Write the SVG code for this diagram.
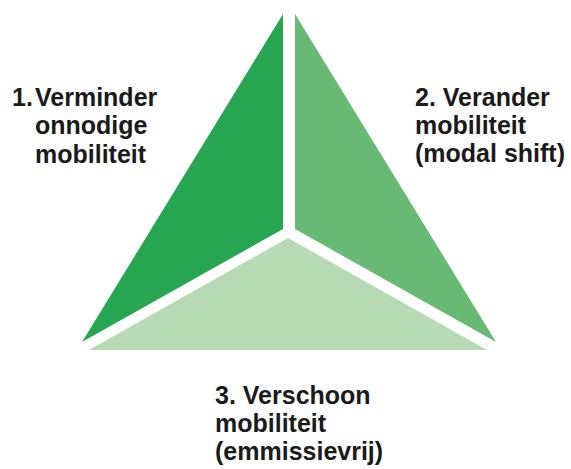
<svg xmlns="http://www.w3.org/2000/svg" width="571" height="469" viewBox="0 0 571 469">
<style>
.lbl{font-family:"Liberation Sans",Arial,sans-serif;font-weight:bold;font-size:25px;fill:#1a1a1a}
</style>
<rect width="571" height="469" fill="#ffffff"/>
<g id="segment-1">
<polygon points="283,14 283,229 82,342" fill="#26a651"/>
</g>
<g id="segment-2">
<polygon points="295,14 295,229 496,342" fill="#68b973"/>
</g>
<g id="segment-3">
<polygon points="288,238 89,350 487,350" fill="#b6dab4"/>
</g>
<g id="label-1">
<text class="lbl"><tspan x="12" y="105.5">1.</tspan><tspan x="35" y="105.5">Verminder</tspan><tspan x="35" y="134">onnodige</tspan><tspan x="35" y="162.5">mobiliteit</tspan></text>
</g>
<g id="label-2">
<text class="lbl"><tspan x="415" y="105.5">2. Verander</tspan><tspan x="415" y="133.5">mobiliteit</tspan><tspan x="415" y="161.5">(modal shift)</tspan></text>
</g>
<g id="label-3">
<text class="lbl"><tspan x="215" y="403.5">3. Verschoon</tspan><tspan x="215" y="431.5">mobiliteit</tspan><tspan x="215" y="459.5">(emmissievrij)</tspan></text>
</g>
<g id="connectors"></g>
</svg>
